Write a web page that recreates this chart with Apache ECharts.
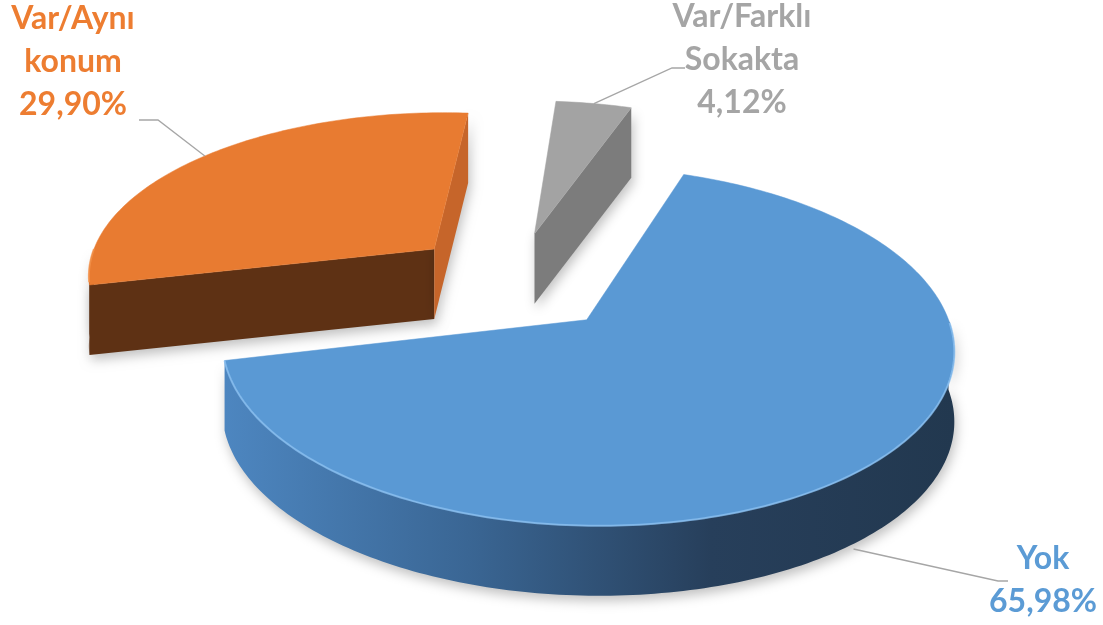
<!DOCTYPE html>
<html><head><meta charset="utf-8">
<script src="https://cdn.jsdelivr.net/npm/echarts@6/dist/echarts.min.js"></script>
<style>html,body{margin:0;padding:0;background:#fff}#c{width:1103px;height:625px}</style>
</head><body><div id="c"></div>
<script>
// ---- data ----
const categories = ['Yok', 'Var/Aynı konum', 'Var/Farklı Sokakta'];
const values = [65.98, 29.90, 4.12];
const colors = ['#5B9BD5', '#ED7D31', '#A5A5A5'];

// ---- view / styling (not data) ----
const VIEW = {cx: 513, cy: 281, B: 2450, A: 1150, D: 7, depth: 70, explode: 0.306, startAngle: 19.5};
const faceStyle = [
  {top: '#5A99D4', start: '#3d6b97', end: '#2c4c6c', wall: ['#4d86c0', '#3a6694', '#273f5b', '#22384f'], hi: '#8cc2f2'},
  {top: '#E87B31', start: '#5E3114', end: '#C6652A', wall: ['#5E3114', '#5E3114'], hi: '#f5944c'},
  {top: '#A3A3A3', start: '#8a8a8a', end: '#7C7C7C', wall: ['#7c7c7c', '#7c7c7c'], hi: '#bdbdbd'}
];
const labelLayout = [
  {center: [1043, 580], elbow: [998, 581], end: [1008, 581], shift: [-13, 12]},
  {center: [73, 62], elbow: [158, 120], end: [139, 120], shift: [0, 0]},
  {center: [742, 60], elbow: [672, 68], end: [685, 68], shift: [0, 0]}
];
const LABEL_FONT = 'bold 32px Lato';
const LINE_H = 43;

const total = values.reduce((a, b) => a + b, 0);
const rad = d => d * Math.PI / 180;
const P = (X, Y) => [VIEW.cx + VIEW.B * X / (VIEW.D + Y), VIEW.cy - VIEW.A * Y / (VIEW.D + Y)];

function sliceGeom(i) {
  let cum = 0;
  for (let k = 0; k < i; k++) cum += values[k];
  const a0 = VIEW.startAngle + cum / total * 360;
  const a1 = a0 + values[i] / total * 360;
  const mid = (a0 + a1) / 2;
  const ax = VIEW.explode * Math.sin(rad(mid)), ay = VIEW.explode * Math.cos(rad(mid));
  return {a0, a1, mid, ax, ay};
}
// draw order: far slices first
const order = values.map((v, i) => i).sort((p, q) => sliceGeom(q).ay - sliceGeom(p).ay);

function renderItem(params, api) {
  const i = params.dataIndex;
  const g = sliceGeom(i);
  const st = faceStyle[i];
  const base = order.indexOf(i) * 10;
  const outer = phi => P(g.ax + Math.sin(rad(phi)), g.ay + Math.cos(rad(phi)));
  const down = p => [p[0], p[1] + VIEW.depth];
  const arc = (lo, hi) => {
    const n = Math.max(2, Math.ceil(Math.abs(hi - lo)));
    const pts = [];
    for (let j = 0; j <= n; j++) pts.push(outer(lo + (hi - lo) * j / n));
    return pts;
  };
  const apex = P(g.ax, g.ay);
  const shadow = {shadowBlur: 12, shadowColor: 'rgba(0,0,0,0.25)', shadowOffsetX: 2, shadowOffsetY: 5};
  const children = [];

  // outer wall (front-facing part)
  const lo = Math.max(g.a0, 90), hi = Math.min(g.a1, 270);
  if (hi > lo) {
    const top = arc(lo, hi);
    const pts = top.concat(top.slice().reverse().map(down));
    const stops = st.wall.map((c, k) => ({offset: k / (st.wall.length - 1), color: c}));
    children.push({type: 'polygon', z2: base + 1, shape: {points: pts},
      style: Object.assign({fill: {type: 'linear', x: 0, y: 0, x2: 1, y2: 0, colorStops: stops}}, shadow)});
  }
  // radial faces
  if (Math.sin(rad(g.a0)) < 0) {
    const o = outer(g.a0);
    children.push({type: 'polygon', z2: base + 2, shape: {points: [apex, o, down(o), down(apex)]},
      style: Object.assign({fill: st.start}, shadow)});
  }
  if (Math.sin(rad(g.a1)) > 0) {
    const o = outer(g.a1);
    children.push({type: 'polygon', z2: base + 2, shape: {points: [apex, o, down(o), down(apex)]},
      style: Object.assign({fill: st.end}, shadow)});
  }
  // top face
  children.push({type: 'polygon', z2: base + 3, shape: {points: [apex].concat(arc(g.a0, g.a1))},
    style: {fill: st.top, stroke: st.top, lineWidth: 0.5}});
  if (hi > lo) {
    children.push({type: 'polyline', z2: base + 4, shape: {points: arc(lo + 1, hi)},
      style: {stroke: st.hi, lineWidth: 2, opacity: 0.75, fill: null}});
  }

  // label + leader
  const L = labelLayout[i];
  let anchor = outer(g.mid);
  const m = ((g.mid % 360) + 360) % 360;
  if (m > 90 && m < 270) anchor = down(anchor);
  anchor = [anchor[0] + L.shift[0], anchor[1] + L.shift[1]];
  children.push({type: 'polyline', z2: 100, shape: {points: [anchor, L.elbow, L.end]},
    style: {stroke: '#A6A6A6', lineWidth: 1.3, fill: null}});
  const txt = categories[i].split(' ').join('\n') + '\n' + values[i].toFixed(2).replace('.', ',') + '%';
  children.push({type: 'text', z2: 101, style: {
    text: txt, x: L.center[0], y: L.center[1], fill: colors[i], font: LABEL_FONT,
    align: 'center', verticalAlign: 'middle', textAlign: 'center', textVerticalAlign: 'middle',
    lineHeight: LINE_H}});
  return {type: 'group', children};
}

const chart = echarts.init(document.getElementById('c'), null, {renderer: 'canvas'});
chart.setOption({
  backgroundColor: '#ffffff',
  animation: false,
  series: [{
    type: 'custom',
    coordinateSystem: 'none',
    renderItem: renderItem,
    data: values.map((v, i) => ({name: categories[i], value: v}))
  }]
});
</script></body></html>
